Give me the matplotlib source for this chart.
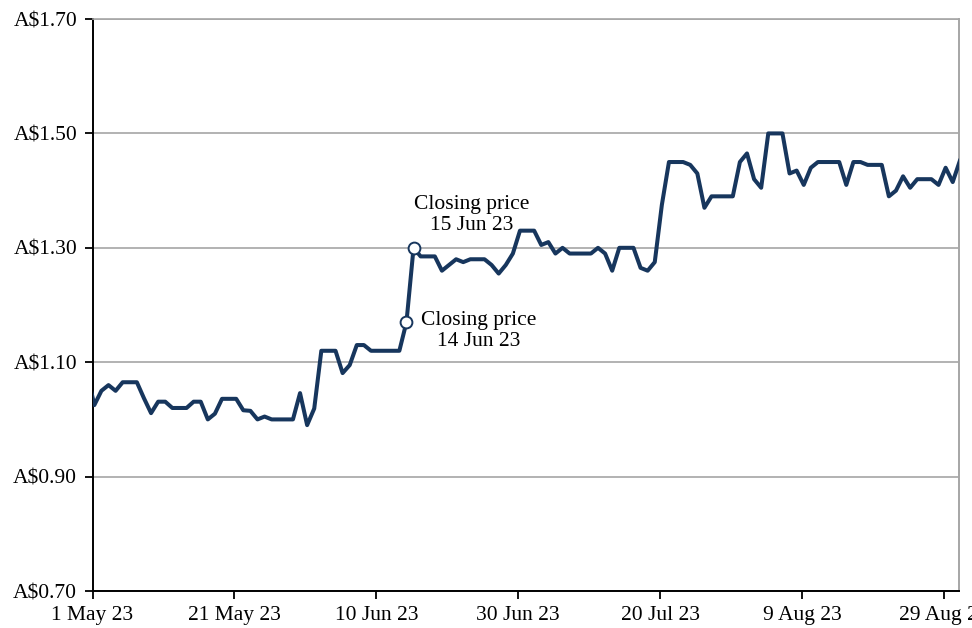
import matplotlib.pyplot as plt
import numpy as np
import pandas as pd

plt.rcParams['font.family'] = ['Liberation Serif', 'DejaVu Serif']

# daily closing prices (weekends carry Friday's close), 30 Apr - 31 Aug 2023
start = '2023-04-30'
prices = [
    1.080,                                                   # 30 Apr
    1.025, 1.050, 1.060, 1.050, 1.065, 1.065, 1.065,         # 1-7 May
    1.037, 1.011, 1.031, 1.031, 1.020, 1.020, 1.020,         # 8-14 May
    1.031, 1.031, 1.000, 1.010, 1.036, 1.036, 1.036,         # 15-21 May
    1.016, 1.015, 1.000, 1.005, 1.000, 1.000, 1.000,         # 22-28 May
    1.000, 1.046, 0.990, 1.019, 1.120, 1.120, 1.120,         # 29 May-4 Jun
    1.081, 1.095, 1.130, 1.130, 1.120, 1.120, 1.120,         # 5-11 Jun
    1.120, 1.120, 1.170, 1.300, 1.285, 1.285, 1.285,         # 12-18 Jun
    1.260, 1.270, 1.280, 1.275, 1.280, 1.280, 1.280,         # 19-25 Jun
    1.270, 1.255, 1.270, 1.290, 1.330, 1.330, 1.330,         # 26 Jun-2 Jul
    1.305, 1.310, 1.290, 1.300, 1.290, 1.290, 1.290,         # 3-9 Jul
    1.290, 1.300, 1.290, 1.260, 1.300, 1.300, 1.300,         # 10-16 Jul
    1.265, 1.260, 1.275, 1.375, 1.450, 1.450, 1.450,         # 17-23 Jul
    1.445, 1.430, 1.370, 1.390, 1.390, 1.390, 1.390,         # 24-30 Jul
    1.450, 1.465, 1.420, 1.405, 1.500, 1.500, 1.500,         # 31 Jul-6 Aug
    1.430, 1.435, 1.410, 1.440, 1.450, 1.450, 1.450,         # 7-13 Aug
    1.450, 1.410, 1.450, 1.450, 1.445, 1.445, 1.445,         # 14-20 Aug
    1.390, 1.400, 1.425, 1.405, 1.420, 1.420, 1.420,         # 21-27 Aug
    1.410, 1.440, 1.415, 1.452,                              # 28-31 Aug
]
dates = pd.date_range(start, periods=len(prices), freq='D')

tick_dates = pd.date_range('2023-05-01', periods=7, freq='20D')
tick_labels = ['1 May 23', '21 May 23', '10 Jun 23', '30 Jun 23',
               '20 Jul 23', '9 Aug 23', '29 Aug 23']
y_ticks = [0.70, 0.90, 1.10, 1.30, 1.50, 1.70]

callouts = [('2023-06-15', 'Closing price\n15 Jun 23', (58, 33)),
            ('2023-06-14', 'Closing price\n14 Jun 23', (72, -9))]

navy = '#17365d'
grid_grey = '#a6a6a6'

fig = plt.figure(figsize=(9.72, 6.28), dpi=100)
ax = fig.add_axes([0.0952, 0.0589, 0.8919, 0.9108])

# each close is drawn a little into its day
x = dates + pd.Timedelta(hours=6)
ax.plot(x, prices, color=navy, lw=2.9, solid_joinstyle='round', zorder=3)

for day, text, off in callouts:
    i = dates.get_loc(pd.Timestamp(day))
    ax.plot(x[i], prices[i], 'o', ms=8.5, mfc='white', mec=navy, mew=1.4, zorder=4)
    ax.annotate(text, (x[i], prices[i]), xytext=off, textcoords='offset pixels',
                ha='center', va='center', fontsize=15.5, linespacing=1.1)

ax.set_ylim(0.70, 1.70)
ax.set_yticks(y_ticks)
ax.set_yticklabels([f'A${v:.2f}' for v in y_ticks], fontsize=15.5)
ax.set_xlim(pd.Timestamp('2023-05-01'), pd.Timestamp('2023-05-01') + pd.Timedelta(days=122.2))
ax.set_xticks(tick_dates)
ax.set_xticklabels(tick_labels, fontsize=15.5)

ax.yaxis.grid(True, color=grid_grey, lw=1.2)
ax.set_axisbelow(True)
ax.tick_params(axis='both', direction='out', length=6, width=1.3, color='black', pad=5)
ax.tick_params(axis='y', pad=5)

for side in ['left', 'bottom']:
    ax.spines[side].set_color('black')
    ax.spines[side].set_linewidth(1.4)
ax.spines['right'].set_color(grid_grey)
ax.spines['right'].set_linewidth(1.4)
ax.spines['top'].set_color(grid_grey)
ax.spines['top'].set_linewidth(1.2)

fig.savefig('out.png', dpi=100)
